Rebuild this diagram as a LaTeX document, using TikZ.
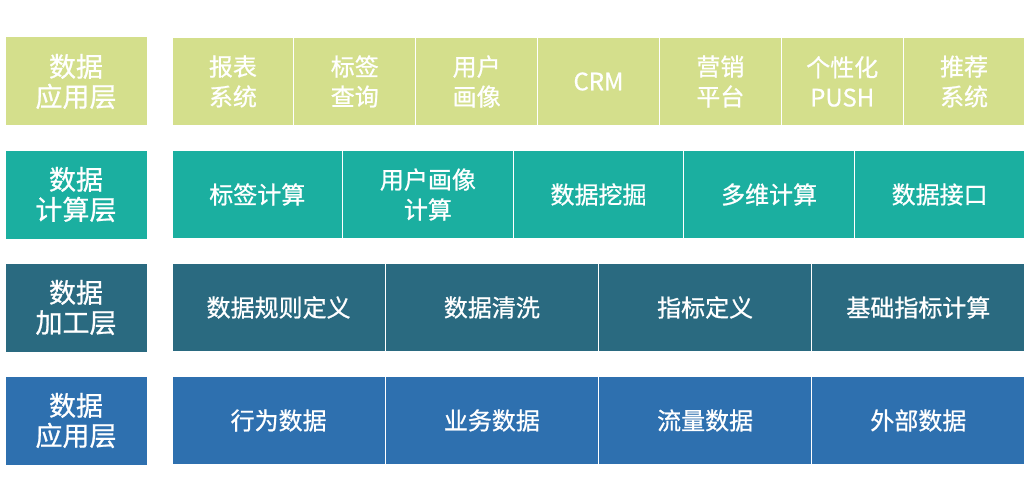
\documentclass[tikz,border=0pt]{standalone}
\usepackage{fontspec}
\newfontfamily\cjk[FakeBold=0.8]{Noto Sans CJK SC}
\usepackage{tikz}
\usetikzlibrary{positioning}

\definecolor{appgreen}{RGB}{212,223,140}
\definecolor{calcteal}{RGB}{27,175,160}
\definecolor{procteal}{RGB}{42,106,128}
\definecolor{srcblue}{RGB}{46,112,175}

\begin{document}
\begin{tikzpicture}[
    x=1pt, y=-1pt,
    layer/.style={
        rectangle, fill=#1, draw=white, line width=1pt,
        minimum width=142pt, minimum height=89pt, inner sep=0pt,
        text=white, align=center, font=\cjk\fontsize{27}{30}\selectfont
    },
    cell/.style={
        rectangle, fill=#1, draw=white, line width=1.2pt,
        minimum height=89pt, inner sep=0pt,
        text=white, align=center, font=\cjk\fontsize{24}{30}\selectfont
    }
]

    \useasboundingbox (0,0) rectangle (1033,500);

    \newcommand*{\cellleft}{172}
    \newcommand*{\cellright}{1025}

    % Layer labels
    \node[layer=appgreen] (app)  at (76,81.5)  {数据\\应用层};
    \node[layer=calcteal] (calc) at (76,194.5) {数据\\计算层};
    \node[layer=procteal] (proc) at (76,307.5) {数据\\加工层};
    \node[layer=srcblue]  (src)  at (76,420.5) {数据\\应用层};

    % Application row
    \pgfmathsetmacro{\wa}{(\cellright-\cellleft)/7}
    \foreach \txt [count=\i] in {{报表\\系统},{标签\\查询},{用户\\画像},CRM,{营销\\平台},{个性化\\PUSH},{推荐\\系统}}
        \node[cell=appgreen, minimum width=\wa pt] (app\i)
            at ({\cellleft+(\i-0.5)*\wa},81.5) {\txt};

    % Calculation row
    \pgfmathsetmacro{\wb}{(\cellright-\cellleft)/5}
    \foreach \txt [count=\i] in {标签计算,{用户画像\\计算},数据挖掘,多维计算,数据接口}
        \node[cell=calcteal, minimum width=\wb pt] (calc\i)
            at ({\cellleft+(\i-0.5)*\wb},194.5) {\txt};

    % Processing row
    \pgfmathsetmacro{\wc}{(\cellright-\cellleft)/4}
    \foreach \txt [count=\i] in {数据规则定义,数据清洗,指标定义,基础指标计算}
        \node[cell=procteal, minimum width=\wc pt] (proc\i)
            at ({\cellleft+(\i-0.5)*\wc},307.5) {\txt};

    % Source row
    \foreach \txt [count=\i] in {行为数据,业务数据,流量数据,外部数据}
        \node[cell=srcblue, minimum width=\wc pt] (src\i)
            at ({\cellleft+(\i-0.5)*\wc},420.5) {\txt};

\end{tikzpicture}
\end{document}
